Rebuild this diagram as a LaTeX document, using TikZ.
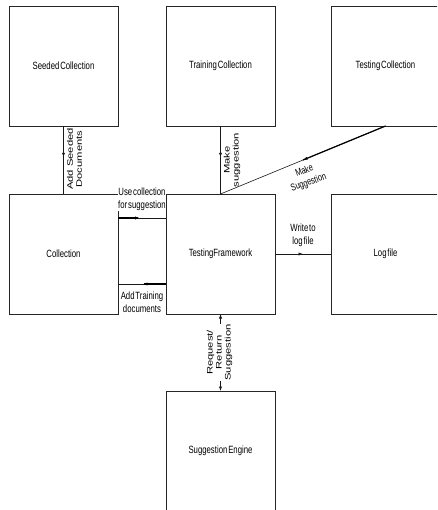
\documentclass[tikz,border=0pt]{standalone}
\usepackage{fontspec}
\setmainfont{Liberation Sans}
\newfontfamily\hfont[FakeStretch=0.74,WordSpace=0.4]{Liberation Sans}
\newfontfamily\vfont[FakeStretch=1.4]{Liberation Sans}
\usetikzlibrary{arrows.meta,decorations.markings}
\tikzset{
  box/.style={draw=black!85, line width=0.6pt, rectangle, minimum width=109pt, minimum height=120pt, inner sep=0pt, outer sep=0pt,
    font=\hfont\fontsize{10.5}{13}\selectfont},
  conn/.style={draw=black!90, line width=0.6pt},
  thickpart/.style={draw=black, line width=1.2pt},
  midarrow/.style={postaction={decorate}, decoration={markings, mark=at position #1 with {\arrow{Latex[length=4.5pt,width=3.2pt]}}}},
  midarrow/.default=0.5,
  hlabel/.style={align=center, inner sep=0pt, font=\hfont\fontsize{10.5}{13}\selectfont},
  vlabel/.style={align=center, inner sep=0pt, rotate=90, font=\vfont\fontsize{8}{9}\selectfont},
}
\begin{document}
\begin{tikzpicture}[x=1pt,y=-1pt]
\path[use as bounding box, clip] (0,0) rectangle (437,510);
\fill[white] (0,0) rectangle (437,510);
% boxes
\node[box] (seeded) at (63.5,66) {Seeded Collection};
\node[box] (training) at (220.5,66) {Training Collection};
\node[box] (testing) at (385.5,66) {Testing Collection};
\node[box] (collection) at (63.5,254) {Collection};
\node[box] (framework) at (220.5,254) {TestingFramework};
\node[box] (logfile) at (385.5,254) {Log file};
\node[box] (engine) at (220.5,451) {Suggestion Engine};
% vertical connectors
\draw[conn, midarrow=0.46] (seeded) -- (collection);
\draw[conn, midarrow=0.46] (training) -- (framework);
% diagonal
\draw[conn, midarrow=0.5] (testing.south) -- (framework.north);
\path (testing.south) -- coordinate[pos=0.5] (dmid) (framework.north);
\draw[thickpart] (testing.south) -- (dmid);
% use collection
\coordinate (uc1) at ([yshift=-24pt]collection.north east);
\coordinate (uc2) at ([yshift=-24pt]framework.north west);
\draw[conn, midarrow=0.45] (uc1) -- (uc2);
\path (uc1) -- coordinate[pos=0.42] (ucm) (uc2);
\draw[thickpart] (uc1) -- (ucm);
% add training
\coordinate (at1) at ([yshift=30pt]framework.south west);
\coordinate (at2) at ([yshift=30pt]collection.south east);
\draw[conn, midarrow=0.48] (at1) -- (at2);
\path (at1) -- coordinate[pos=0.45] (atm) (at2);
\draw[thickpart] (at1) -- (atm);
% to log file
\draw[conn, midarrow=0.5] (framework) -- (logfile);
% engine
\draw[conn, {Latex[length=4.5pt,width=3.2pt]}-{Latex[length=4.5pt,width=3.2pt]}] (framework) -- (engine);
% labels
\node[vlabel] (lseed) at (74.5,159) {Add Seeded\\Documents};
\node[vlabel] (ltrain) at (232,160) {Make\\suggestion};
\node[hlabel, rotate=20, font=\hfont\fontsize{10}{12.5}\selectfont] (ltest) at (306.5,177) {Make\\Suggestion};
\node[hlabel, fill=white, inner ysep=1pt] (luse) at (142,199) {Use collection\\for suggestion};
\node[hlabel] (ladd) at (142,302.5) {Add Training\\documents};
\node[hlabel] (llog) at (303,235) {Write to\\log file};
\node[vlabel, fill=white] (lreq) at (219.5,352.5) {Request/\\Return\\Suggestion};
\end{tikzpicture}
\end{document}
